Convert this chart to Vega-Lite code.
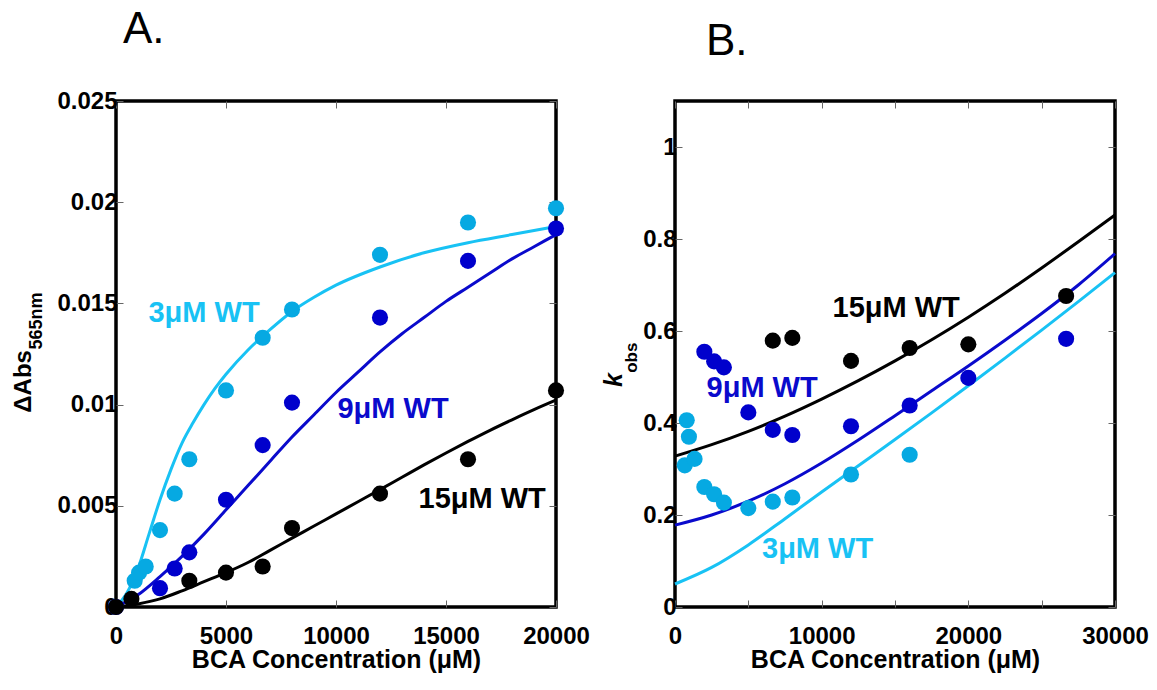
{
  "$schema": "https://vega.github.io/schema/vega-lite/v6.json",
  "background": "white",
  "padding": {"left": 10, "top": 6, "right": 5, "bottom": 3},
  "bounds": "flush",
  "spacing": 119,
  "datasets": {
    "ptsA": [
      {"x": 850, "y": 0.0013, "s": "3μM WT"}, {"x": 1050, "y": 0.0017, "s": "3μM WT"}, {"x": 1350, "y": 0.0020, "s": "3μM WT"},
      {"x": 2000, "y": 0.0038, "s": "3μM WT"}, {"x": 2667, "y": 0.0056, "s": "3μM WT"}, {"x": 3333, "y": 0.0073, "s": "3μM WT"},
      {"x": 5000, "y": 0.0107, "s": "3μM WT"}, {"x": 6667, "y": 0.0133, "s": "3μM WT"}, {"x": 8000, "y": 0.0147, "s": "3μM WT"},
      {"x": 12000, "y": 0.0174, "s": "3μM WT"}, {"x": 16000, "y": 0.0190, "s": "3μM WT"}, {"x": 20000, "y": 0.0197, "s": "3μM WT"},
      {"x": 0, "y": 0, "s": "9μM WT"}, {"x": 2000, "y": 0.00093, "s": "9μM WT"}, {"x": 2667, "y": 0.0019, "s": "9μM WT"},
      {"x": 3333, "y": 0.0027, "s": "9μM WT"}, {"x": 5000, "y": 0.0053, "s": "9μM WT"}, {"x": 6667, "y": 0.0080, "s": "9μM WT"},
      {"x": 8000, "y": 0.0101, "s": "9μM WT"}, {"x": 12000, "y": 0.0143, "s": "9μM WT"}, {"x": 16000, "y": 0.0171, "s": "9μM WT"},
      {"x": 20000, "y": 0.0187, "s": "9μM WT"},
      {"x": 0, "y": 0, "s": "15μM WT"}, {"x": 700, "y": 0.0004, "s": "15μM WT"}, {"x": 3333, "y": 0.0013, "s": "15μM WT"},
      {"x": 5000, "y": 0.0017, "s": "15μM WT"}, {"x": 6667, "y": 0.0020, "s": "15μM WT"}, {"x": 8000, "y": 0.0039, "s": "15μM WT"},
      {"x": 12000, "y": 0.0056, "s": "15μM WT"}, {"x": 16000, "y": 0.0073, "s": "15μM WT"}, {"x": 20000, "y": 0.0107, "s": "15μM WT"}
    ],
    "fitA": [
      {"x": 0, "y": 0, "s": "3μM WT"}, {"x": 500, "y": 0.0007, "s": "3μM WT"}, {"x": 1000, "y": 0.0019, "s": "3μM WT"},
      {"x": 1500, "y": 0.0036, "s": "3μM WT"}, {"x": 2000, "y": 0.0053, "s": "3μM WT"}, {"x": 2500, "y": 0.0068, "s": "3μM WT"},
      {"x": 3000, "y": 0.0081, "s": "3μM WT"}, {"x": 3500, "y": 0.0091, "s": "3μM WT"}, {"x": 4000, "y": 0.0100, "s": "3μM WT"},
      {"x": 4500, "y": 0.0108, "s": "3μM WT"}, {"x": 5000, "y": 0.0115, "s": "3μM WT"}, {"x": 6000, "y": 0.0127, "s": "3μM WT"},
      {"x": 7000, "y": 0.0137, "s": "3μM WT"}, {"x": 8000, "y": 0.0146, "s": "3μM WT"}, {"x": 9000, "y": 0.0153, "s": "3μM WT"},
      {"x": 10000, "y": 0.0159, "s": "3μM WT"}, {"x": 12000, "y": 0.0168, "s": "3μM WT"}, {"x": 14000, "y": 0.0175, "s": "3μM WT"},
      {"x": 16000, "y": 0.0180, "s": "3μM WT"}, {"x": 18000, "y": 0.0184, "s": "3μM WT"}, {"x": 20000, "y": 0.0188, "s": "3μM WT"},
      {"x": 0, "y": 0, "s": "9μM WT"}, {"x": 1000, "y": 0.0006, "s": "9μM WT"}, {"x": 2000, "y": 0.0015, "s": "9μM WT"},
      {"x": 3000, "y": 0.0025, "s": "9μM WT"}, {"x": 4000, "y": 0.0036, "s": "9μM WT"}, {"x": 5000, "y": 0.0048, "s": "9μM WT"},
      {"x": 6000, "y": 0.0060, "s": "9μM WT"}, {"x": 7000, "y": 0.0072, "s": "9μM WT"}, {"x": 8000, "y": 0.0084, "s": "9μM WT"},
      {"x": 9000, "y": 0.0095, "s": "9μM WT"}, {"x": 10000, "y": 0.0106, "s": "9μM WT"}, {"x": 11000, "y": 0.0116, "s": "9μM WT"},
      {"x": 12000, "y": 0.0126, "s": "9μM WT"}, {"x": 13000, "y": 0.0135, "s": "9μM WT"}, {"x": 14000, "y": 0.0143, "s": "9μM WT"},
      {"x": 15000, "y": 0.0151, "s": "9μM WT"}, {"x": 16000, "y": 0.0158, "s": "9μM WT"}, {"x": 17000, "y": 0.0165, "s": "9μM WT"},
      {"x": 18000, "y": 0.0172, "s": "9μM WT"}, {"x": 19000, "y": 0.0178, "s": "9μM WT"}, {"x": 20000, "y": 0.0184, "s": "9μM WT"},
      {"x": 0, "y": 0, "s": "15μM WT"}, {"x": 1000, "y": 0.00015, "s": "15μM WT"}, {"x": 2000, "y": 0.0004, "s": "15μM WT"},
      {"x": 3000, "y": 0.0008, "s": "15μM WT"}, {"x": 4000, "y": 0.00125, "s": "15μM WT"}, {"x": 5000, "y": 0.0017, "s": "15μM WT"},
      {"x": 6000, "y": 0.0022, "s": "15μM WT"}, {"x": 7000, "y": 0.0028, "s": "15μM WT"}, {"x": 8000, "y": 0.0034, "s": "15μM WT"},
      {"x": 9000, "y": 0.0040, "s": "15μM WT"}, {"x": 10000, "y": 0.0046, "s": "15μM WT"}, {"x": 11000, "y": 0.0052, "s": "15μM WT"},
      {"x": 12000, "y": 0.0058, "s": "15μM WT"}, {"x": 13000, "y": 0.00641, "s": "15μM WT"}, {"x": 14000, "y": 0.00702, "s": "15μM WT"},
      {"x": 15000, "y": 0.00761, "s": "15μM WT"}, {"x": 16000, "y": 0.00818, "s": "15μM WT"}, {"x": 17000, "y": 0.00873, "s": "15μM WT"},
      {"x": 18000, "y": 0.00925, "s": "15μM WT"}, {"x": 19000, "y": 0.00975, "s": "15μM WT"}, {"x": 20000, "y": 0.01022, "s": "15μM WT"}
    ],
    "ptsB": [
      {"x": 667, "y": 0.308, "s": "3μM WT"}, {"x": 800, "y": 0.406, "s": "3μM WT"}, {"x": 950, "y": 0.370, "s": "3μM WT"},
      {"x": 1333, "y": 0.322, "s": "3μM WT"}, {"x": 2000, "y": 0.261, "s": "3μM WT"}, {"x": 2667, "y": 0.245, "s": "3μM WT"},
      {"x": 3333, "y": 0.227, "s": "3μM WT"}, {"x": 5000, "y": 0.215, "s": "3μM WT"}, {"x": 6667, "y": 0.229, "s": "3μM WT"},
      {"x": 8000, "y": 0.238, "s": "3μM WT"}, {"x": 12000, "y": 0.288, "s": "3μM WT"}, {"x": 16000, "y": 0.331, "s": "3μM WT"},
      {"x": 2000, "y": 0.555, "s": "9μM WT"}, {"x": 2667, "y": 0.534, "s": "9μM WT"}, {"x": 3333, "y": 0.521, "s": "9μM WT"},
      {"x": 5000, "y": 0.423, "s": "9μM WT"}, {"x": 6667, "y": 0.385, "s": "9μM WT"}, {"x": 8000, "y": 0.374, "s": "9μM WT"},
      {"x": 12000, "y": 0.393, "s": "9μM WT"}, {"x": 16000, "y": 0.438, "s": "9μM WT"}, {"x": 20000, "y": 0.498, "s": "9μM WT"},
      {"x": 26667, "y": 0.583, "s": "9μM WT"},
      {"x": 6667, "y": 0.579, "s": "15μM WT"}, {"x": 8000, "y": 0.585, "s": "15μM WT"}, {"x": 12000, "y": 0.535, "s": "15μM WT"},
      {"x": 16000, "y": 0.563, "s": "15μM WT"}, {"x": 20000, "y": 0.571, "s": "15μM WT"}, {"x": 26667, "y": 0.676, "s": "15μM WT"}
    ],
    "fitB": [
      {"x": 0, "y": 0.050, "s": "3μM WT"}, {"x": 2500, "y": 0.086, "s": "3μM WT"}, {"x": 5000, "y": 0.135, "s": "3μM WT"},
      {"x": 7500, "y": 0.192, "s": "3μM WT"}, {"x": 10000, "y": 0.250, "s": "3μM WT"}, {"x": 12500, "y": 0.307, "s": "3μM WT"},
      {"x": 15000, "y": 0.364, "s": "3μM WT"}, {"x": 17500, "y": 0.422, "s": "3μM WT"}, {"x": 20000, "y": 0.481, "s": "3μM WT"},
      {"x": 22500, "y": 0.541, "s": "3μM WT"}, {"x": 25000, "y": 0.602, "s": "3μM WT"}, {"x": 27500, "y": 0.664, "s": "3μM WT"},
      {"x": 30000, "y": 0.727, "s": "3μM WT"},
      {"x": 0, "y": 0.178, "s": "9μM WT"}, {"x": 2500, "y": 0.200, "s": "9μM WT"}, {"x": 5000, "y": 0.230, "s": "9μM WT"},
      {"x": 7500, "y": 0.268, "s": "9μM WT"}, {"x": 10000, "y": 0.313, "s": "9μM WT"}, {"x": 12500, "y": 0.363, "s": "9μM WT"},
      {"x": 15000, "y": 0.416, "s": "9μM WT"}, {"x": 17500, "y": 0.470, "s": "9μM WT"}, {"x": 20000, "y": 0.524, "s": "9μM WT"},
      {"x": 22500, "y": 0.580, "s": "9μM WT"}, {"x": 25000, "y": 0.638, "s": "9μM WT"}, {"x": 27500, "y": 0.700, "s": "9μM WT"},
      {"x": 30000, "y": 0.768, "s": "9μM WT"},
      {"x": 0, "y": 0.328, "s": "15μM WT"}, {"x": 2500, "y": 0.353, "s": "15μM WT"}, {"x": 5000, "y": 0.382, "s": "15μM WT"},
      {"x": 7500, "y": 0.415, "s": "15μM WT"}, {"x": 10000, "y": 0.452, "s": "15μM WT"}, {"x": 12500, "y": 0.492, "s": "15μM WT"},
      {"x": 15000, "y": 0.535, "s": "15μM WT"}, {"x": 17500, "y": 0.581, "s": "15μM WT"}, {"x": 20000, "y": 0.630, "s": "15μM WT"},
      {"x": 22500, "y": 0.682, "s": "15μM WT"}, {"x": 25000, "y": 0.737, "s": "15μM WT"}, {"x": 27500, "y": 0.794, "s": "15μM WT"},
      {"x": 30000, "y": 0.852, "s": "15μM WT"}
    ]
  },
  "hconcat": [
    {
      "width": 440,
      "height": 506,
      "title": {"text": "A.", "anchor": "start", "dx": 7, "offset": 2, "baseline": "alphabetic", "frame": "group"},
      "layer": [
        {
          "data": {"name": "fitA"},
          "mark": {"type": "line", "strokeWidth": 3, "interpolate": "monotone"},
          "encoding": {
            "x": {"field": "x", "type": "quantitative", "scale": {"domain": [0, 20000], "nice": false},
                  "axis": {"orient": "bottom", "values": [0, 5000, 10000, 15000, 20000], "format": "d", "title": "BCA Concentration (μM)"}},
            "y": {"field": "y", "type": "quantitative", "scale": {"domain": [0, 0.025], "nice": false, "zero": true},
                  "axis": {"orient": "left", "values": [0, 0.005, 0.01, 0.015, 0.02, 0.025], "format": "~g", "title": null}},
            "color": {"field": "s", "type": "nominal", "legend": null,
                      "scale": {"domain": ["3μM WT", "9μM WT", "15μM WT"], "range": ["#18C2F4", "#0A0ACC", "#000000"]}}
          }
        },
        {
          "data": {"name": "ptsA"},
          "mark": {"type": "circle", "size": 260, "opacity": 1},
          "encoding": {
            "x": {"field": "x", "type": "quantitative", "scale": {"domain": [0, 20000], "nice": false},
                  "axis": {"orient": "top", "values": [0, 5000, 10000, 15000, 20000], "labels": false, "title": null}},
            "y": {"field": "y", "type": "quantitative", "scale": {"domain": [0, 0.025], "nice": false},
                  "axis": {"orient": "right", "values": [0, 0.005, 0.01, 0.015, 0.02, 0.025], "labels": false, "title": null}},
            "color": {"field": "s", "type": "nominal", "legend": null,
                      "scale": {"domain": ["3μM WT", "9μM WT", "15μM WT"], "range": ["#06A9E2", "#0000CC", "#000000"]}}
          }
        },
        {
          "data": {"values": [{}]},
          "mark": {"type": "text", "text": "3μM WT", "align": "left", "baseline": "alphabetic", "fontSize": 29, "fontWeight": "bold", "color": "#18C2F4"},
          "encoding": {"x": {"datum": 1477, "type": "quantitative", "scale": {"domain": [0, 20000], "nice": false}, "axis": null},
                       "y": {"datum": 0.01406, "type": "quantitative", "scale": {"domain": [0, 0.025], "nice": false}, "axis": null}}
        },
        {
          "data": {"values": [{}]},
          "mark": {"type": "text", "text": "9μM WT", "align": "left", "baseline": "alphabetic", "fontSize": 29, "fontWeight": "bold", "color": "#0A0ACC"},
          "encoding": {"x": {"datum": 10068, "type": "quantitative", "scale": {"domain": [0, 20000], "nice": false}, "axis": null},
                       "y": {"datum": 0.00936, "type": "quantitative", "scale": {"domain": [0, 0.025], "nice": false}, "axis": null}}
        },
        {
          "data": {"values": [{}]},
          "mark": {"type": "text", "text": "15μM WT", "align": "left", "baseline": "alphabetic", "fontSize": 29, "fontWeight": "bold", "color": "#000000"},
          "encoding": {"x": {"datum": 13750, "type": "quantitative", "scale": {"domain": [0, 20000], "nice": false}, "axis": null},
                       "y": {"datum": 0.0049, "type": "quantitative", "scale": {"domain": [0, 0.025], "nice": false}, "axis": null}}
        },
        {
          "data": {"values": [{}]},
          "mark": {"type": "text", "text": "ΔAbs", "align": "left", "baseline": "alphabetic", "angle": -90, "fontSize": 24, "fontWeight": "bold", "color": "#000000"},
          "encoding": {"x": {"datum": -3841, "type": "quantitative", "scale": {"domain": [0, 20000], "nice": false}, "axis": null},
                       "y": {"datum": 0.0096, "type": "quantitative", "scale": {"domain": [0, 0.025], "nice": false}, "axis": null}}
        },
        {
          "data": {"values": [{}]},
          "mark": {"type": "text", "text": "565nm", "align": "left", "baseline": "alphabetic", "angle": -90, "fontSize": 18, "fontWeight": "bold", "color": "#000000"},
          "encoding": {"x": {"datum": -3341, "type": "quantitative", "scale": {"domain": [0, 20000], "nice": false}, "axis": null},
                       "y": {"datum": 0.01272, "type": "quantitative", "scale": {"domain": [0, 0.025], "nice": false}, "axis": null}}
        }
      ],
      "resolve": {"axis": {"x": "independent", "y": "independent"}, "scale": {"color": "independent"}}
    },
    {
      "width": 440,
      "height": 506,
      "title": {"text": "B.", "anchor": "start", "dx": 31, "offset": 2, "baseline": "alphabetic", "frame": "group"},
      "layer": [
        {
          "data": {"name": "fitB"},
          "mark": {"type": "line", "strokeWidth": 3, "interpolate": "monotone"},
          "encoding": {
            "x": {"field": "x", "type": "quantitative", "scale": {"domain": [0, 30000], "nice": false},
                  "axis": {"orient": "bottom", "values": [0, 5000, 10000, 15000, 20000, 25000, 30000], "labelExpr": "datum.value % 10000 === 0 ? format(datum.value, 'd') : ''", "title": "BCA Concentration (μM)"}},
            "y": {"field": "y", "type": "quantitative", "scale": {"domain": [0, 1.1], "nice": false},
                  "axis": {"orient": "left", "values": [0, 0.2, 0.4, 0.6, 0.8, 1], "format": "~g", "title": null}},
            "color": {"field": "s", "type": "nominal", "legend": null,
                      "scale": {"domain": ["3μM WT", "9μM WT", "15μM WT"], "range": ["#18C2F4", "#0A0ACC", "#000000"]}}
          }
        },
        {
          "data": {"name": "ptsB"},
          "mark": {"type": "circle", "size": 260, "opacity": 1},
          "encoding": {
            "x": {"field": "x", "type": "quantitative", "scale": {"domain": [0, 30000], "nice": false},
                  "axis": {"orient": "top", "values": [0, 5000, 10000, 15000, 20000, 25000, 30000], "labels": false, "title": null}},
            "y": {"field": "y", "type": "quantitative", "scale": {"domain": [0, 1.1], "nice": false},
                  "axis": {"orient": "right", "values": [0, 0.2, 0.4, 0.6, 0.8, 1], "labels": false, "title": null}},
            "color": {"field": "s", "type": "nominal", "legend": null,
                      "scale": {"domain": ["3μM WT", "9μM WT", "15μM WT"], "range": ["#06A9E2", "#0000CC", "#000000"]}}
          }
        },
        {
          "data": {"values": [{}]},
          "mark": {"type": "text", "text": "15μM WT", "align": "left", "baseline": "alphabetic", "fontSize": 29, "fontWeight": "bold", "color": "#000000"},
          "encoding": {"x": {"datum": 10739, "type": "quantitative", "scale": {"domain": [0, 30000], "nice": false}, "axis": null},
                       "y": {"datum": 0.630, "type": "quantitative", "scale": {"domain": [0, 1.1], "nice": false}, "axis": null}}
        },
        {
          "data": {"values": [{}]},
          "mark": {"type": "text", "text": "9μM WT", "align": "left", "baseline": "alphabetic", "fontSize": 29, "fontWeight": "bold", "color": "#0A0ACC"},
          "encoding": {"x": {"datum": 2148, "type": "quantitative", "scale": {"domain": [0, 30000], "nice": false}, "axis": null},
                       "y": {"datum": 0.4565, "type": "quantitative", "scale": {"domain": [0, 1.1], "nice": false}, "axis": null}}
        },
        {
          "data": {"values": [{}]},
          "mark": {"type": "text", "text": "3μM WT", "align": "left", "baseline": "alphabetic", "fontSize": 29, "fontWeight": "bold", "color": "#18C2F4"},
          "encoding": {"x": {"datum": 5932, "type": "quantitative", "scale": {"domain": [0, 30000], "nice": false}, "axis": null},
                       "y": {"datum": 0.1065, "type": "quantitative", "scale": {"domain": [0, 1.1], "nice": false}, "axis": null}}
        },
        {
          "data": {"values": [{}]},
          "mark": {"type": "text", "text": "k", "align": "left", "baseline": "alphabetic", "angle": -90, "fontSize": 25, "fontWeight": "bold", "fontStyle": "italic", "color": "#000000"},
          "encoding": {"x": {"datum": -3580, "type": "quantitative", "scale": {"domain": [0, 30000], "nice": false}, "axis": null},
                       "y": {"datum": 0.478, "type": "quantitative", "scale": {"domain": [0, 1.1], "nice": false}, "axis": null}}
        },
        {
          "data": {"values": [{}]},
          "mark": {"type": "text", "text": "obs", "align": "left", "baseline": "alphabetic", "angle": -90, "fontSize": 17, "fontWeight": "bold", "color": "#000000"},
          "encoding": {"x": {"datum": -2625, "type": "quantitative", "scale": {"domain": [0, 30000], "nice": false}, "axis": null},
                       "y": {"datum": 0.509, "type": "quantitative", "scale": {"domain": [0, 1.1], "nice": false}, "axis": null}}
        }
      ],
      "resolve": {"axis": {"x": "independent", "y": "independent"}, "scale": {"color": "independent"}}
    }
  ],
  "config": {
    "font": "Liberation Sans",
    "view": {"stroke": "#000000", "strokeWidth": 3.5},
    "axis": {
      "domain": false, "grid": false,
      "tickSize": -7, "tickColor": "#666666", "tickWidth": 1,
      "labelFont": "Liberation Sans", "labelFontSize": 24, "labelFontWeight": "bold", "labelColor": "#000000",
      "labelPadding": 6, "labelFlush": false, "labelOverlap": false,
      "titleFont": "Liberation Sans", "titleFontSize": 25, "titleFontWeight": "bold", "titleColor": "#000000", "titlePadding": -1
    },
    "axisBottom": {"labelPadding": 24},
    "title": {"font": "Liberation Sans", "fontSize": 44, "fontWeight": "normal", "color": "#000000"},
    "text": {"font": "Liberation Sans"}
  }
}
